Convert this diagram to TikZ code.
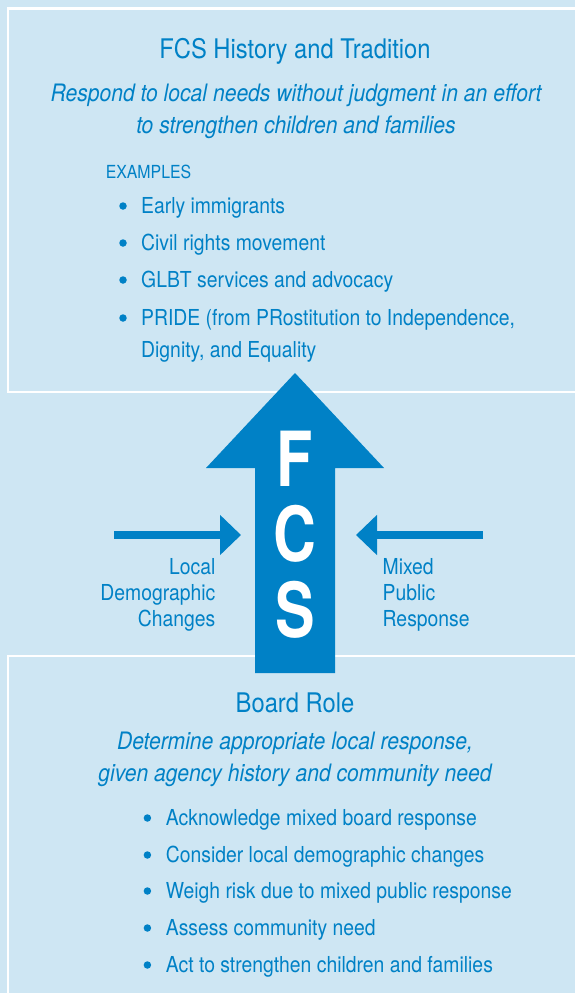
\documentclass[tikz,border=0pt]{standalone}
\usepackage{fontspec}
\setmainfont{TeX Gyre Heros}[FakeStretch=0.88]
\newfontfamily\fcsfont{TeX Gyre Heros}[FakeStretch=0.78]
\usepackage{tikz}
\usetikzlibrary{positioning,arrows.meta}

\definecolor{fcsblue}{RGB}{0,129,198}
\definecolor{paleblue}{RGB}{206,230,243}

\tikzset{
  panel/.style={draw=white, line width=2.7pt},
  heading/.style={text=fcsblue, inner sep=0pt, anchor=base, font=\fontsize{27}{32}\selectfont},
  motto/.style={text=fcsblue, inner sep=0pt, anchor=base, align=center, font=\fontsize{24}{32}\selectfont\itshape},
  label/.style={text=fcsblue, inner sep=0pt, anchor=base west, font=\fontsize{18}{22}\selectfont},
  item/.style={text=fcsblue, inner sep=0pt, anchor=base west, align=left, font=\fontsize{22}{32}\selectfont},
  dot/.style={circle, fill=fcsblue, inner sep=0pt, minimum size=7.5pt},
  side/.style={text=fcsblue, inner sep=0pt, font=\fontsize{22}{26}\selectfont},
  letter/.style={text=white, inner sep=0pt, anchor=base, font=\fcsfont\bfseries\fontsize{76}{80}\selectfont},
  push/.style={fcsblue, line width=8pt, -{Triangle[length=21pt,width=39pt]}}
}

\begin{document}
\begin{tikzpicture}[x=1pt,y=-1pt]
  % background and the two panels
  \fill[paleblue] (0,0) rectangle (575,993);
  \useasboundingbox (0,0) rectangle (575,993);
  \draw[panel] (8,8.7) rectangle (600,392);
  \draw[panel] (8,656) rectangle (600,1010);

  % upper panel (multi-line nodes sit on their last baseline)
  \node[heading] (history) at (295,58) {FCS History and Tradition};
  \node[motto] (respond) at (296,133) {Respond to local needs without judgment in an effort\\to strengthen children and families};
  \node[label] (examples) at (105.6,178) {EXAMPLES};
  \node[dot] (d1) at (123,206) {};
  \node[item] (e1) at (141,213) {Early immigrants};
  \node[dot] (d2) at (123,243) {};
  \node[item] (e2) at (141,250) {Civil rights movement};
  \node[dot] (d3) at (123,280) {};
  \node[item] (e3) at (141,287) {GLBT services and advocacy};
  \node[dot] (d4) at (123,318) {};
  \node[item] (e4) at (141,357) {PRIDE (from PRostitution to Independence,\\Dignity, and Equality};

  % the big arrow
  \fill[fcsblue] (255,673) -- (255,468) -- (206,468) -- (295,373)
    -- (384,468) -- (335,468) -- (335,673) -- cycle;
  \node[letter] (f) at (295,486) {F};
  \node[letter] (c) at (295,561.5) {C};
  \node[letter] (s) at (295,637) {S};

  % pressures from both sides
  \coordinate (lstart) at (114,535);
  \coordinate (lend) at (241,535);
  \coordinate (rstart) at (483,535);
  \coordinate (rend) at (356,535);
  \draw[push] (lstart) -- (lend);
  \draw[push] (rstart) -- (rend);
  \node[side, anchor=base east, align=right] (local) at (215.6,626.7) {Local\\Demographic\\Changes};
  \node[side, anchor=base west, align=left] (mixed) at (382.5,626.7) {Mixed\\Public\\Response};

  % lower panel
  \node[heading] (board) at (295,712) {Board Role};
  \node[motto] (determine) at (295,781) {Determine appropriate local response,\\given agency history and community need};
  \node[dot] (b1) at (147.4,818) {};
  \node[item] (r1) at (165.7,825) {Acknowledge mixed board response};
  \node[dot] (b2) at (147.4,855) {};
  \node[item] (r2) at (165.7,862) {Consider local demographic changes};
  \node[dot] (b3) at (147.4,891) {};
  \node[item] (r3) at (165.7,898) {Weigh risk due to mixed public response};
  \node[dot] (b4) at (147.4,928) {};
  \node[item] (r4) at (165.7,935) {Assess community need};
  \node[dot] (b5) at (147.4,965) {};
  \node[item] (r5) at (165.7,972) {Act to strengthen children and families};
\end{tikzpicture}
\end{document}
